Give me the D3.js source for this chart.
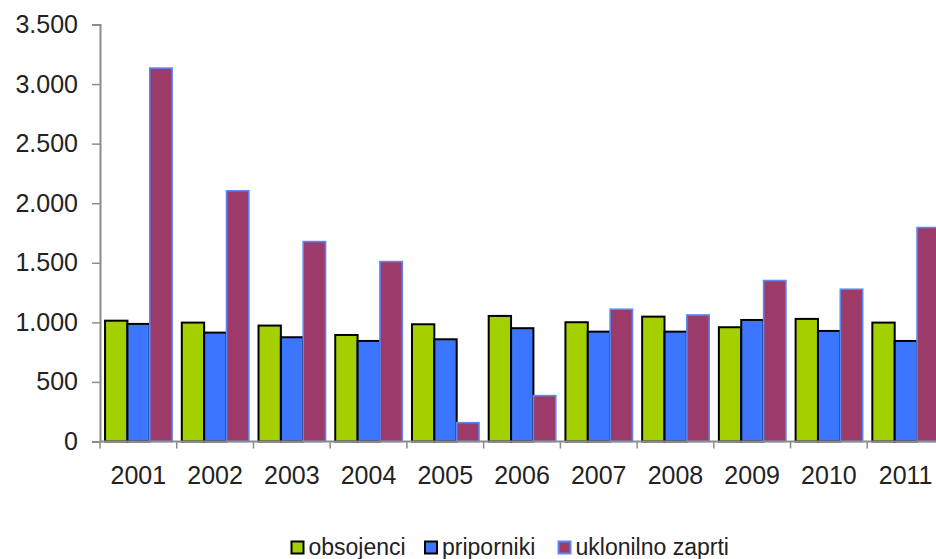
<!DOCTYPE html>
<html>
<head>
<meta charset="utf-8">
<script src="https://cdn.jsdelivr.net/npm/d3@7"></script>
<style>
	body { margin: 0; background: #fff; overflow: hidden; }
	svg { display: block; font-family: "Liberation Sans", Arial, sans-serif; }
</style>
</head>
<body>
<script>
// data
const years = ["2001", "2002", "2003", "2004", "2005", "2006", "2007", "2008", "2009", "2010", "2011"];
const seriesNames = ["obsojenci", "priporniki", "uklonilno zaprti"];
const obsojenci = [1014, 998, 973, 894, 984, 1054, 1001, 1048, 959, 1029, 998];
const priporniki = [987, 914, 875, 844, 858, 951, 922, 922, 1020, 928, 844];
const uklonilno = [3134, 2104, 1678, 1510, 158, 385, 1110, 1062, 1351, 1278, 1796];
const yTicks = [0, 500, 1000, 1500, 2000, 2500, 3000, 3500];

const config = {
	width: 936,
	height: 559,
	left: 100,
	right: 944,
	top: 24.5,
	bottom: 441.5,
	fills: ["#a5d000", "#3c75ff", "#9c3a69"],
	strokes: ["#000", "#000", "#5b86f5"],
	axisColor: "#8c8c8c"
};

const values = [obsojenci, priporniki, uklonilno];

const svg = d3.select("body")
	.append("svg")
	.attr("width", config.width)
	.attr("height", config.height);

const x0 = d3.scaleBand()
	.domain(years)
	.range([config.left, config.right])
	.padding(0);

const bw = x0.bandwidth();
const x1 = d3.scaleBand()
	.domain(seriesNames)
	.range([bw * 0.066, bw * 0.94]);

const y = d3.scaleLinear()
	.domain([0, 3500])
	.range([config.bottom, config.top]);

const fmt = d3.formatLocale({ decimal: ",", thousands: ".", grouping: [3], currency: ["", ""] }).format(",d");

// bars
years.forEach((yr, i) => {
	const g = svg.append("g").attr("transform", `translate(${x0(yr)},0)`);
	seriesNames.forEach((s, k) => {
		const v = values[k][i];
		g.append("rect")
			.attr("x", x1(s))
			.attr("y", y(v))
			.attr("width", x1.bandwidth())
			.attr("height", y(0) - y(v))
			.attr("fill", config.fills[k])
			.attr("stroke", config.strokes[k])
			.attr("stroke-width", k === 2 ? 1.6 : 2);
	});
});

// y axis
const yAxis = svg.append("g")
	.attr("transform", `translate(${config.left},0)`)
	.call(d3.axisLeft(y).tickValues(yTicks).tickFormat(fmt).tickSize(8).tickPadding(14));
yAxis.select(".domain").attr("stroke", config.axisColor).attr("stroke-width", 2);
yAxis.selectAll(".tick line").attr("stroke", config.axisColor).attr("stroke-width", 1.5);
yAxis.selectAll(".tick text")
	.attr("fill", "#222")
	.style("font-size", "25px");

// x axis
const xAxis = svg.append("g")
	.attr("transform", `translate(0,${config.bottom})`);
xAxis.append("line")
	.attr("x1", config.left)
	.attr("x2", config.right)
	.attr("stroke", config.axisColor)
	.attr("stroke-width", 2);
xAxis.selectAll(".xtick")
	.data(years)
	.join("line")
	.attr("class", "xtick")
	.attr("x1", d => x0(d))
	.attr("x2", d => x0(d))
	.attr("y1", 0)
	.attr("y2", 7)
	.attr("stroke", config.axisColor)
	.attr("stroke-width", 1.5);
xAxis.selectAll(".xlabel")
	.data(years)
	.join("text")
	.attr("class", "xlabel")
	.attr("x", d => x0(d) + bw / 2)
	.attr("y", 42)
	.attr("text-anchor", "middle")
	.attr("fill", "#222")
	.style("font-size", "25px")
	.text(d => d);

// legend
const legendX = [291.5, 425, 558.5];
const legend = svg.append("g").attr("transform", "translate(0,541.5)");
seriesNames.forEach((s, k) => {
	legend.append("rect")
		.attr("x", legendX[k])
		.attr("y", 0)
		.attr("width", 12)
		.attr("height", 12)
		.attr("fill", config.fills[k])
		.attr("stroke", config.strokes[k])
		.attr("stroke-width", 2);
	legend.append("text")
		.attr("x", legendX[k] + 17)
		.attr("y", 13.5)
		.attr("fill", "#222")
		.style("font-size", "23px")
		.text(s);
});
</script>
</body>
</html>
